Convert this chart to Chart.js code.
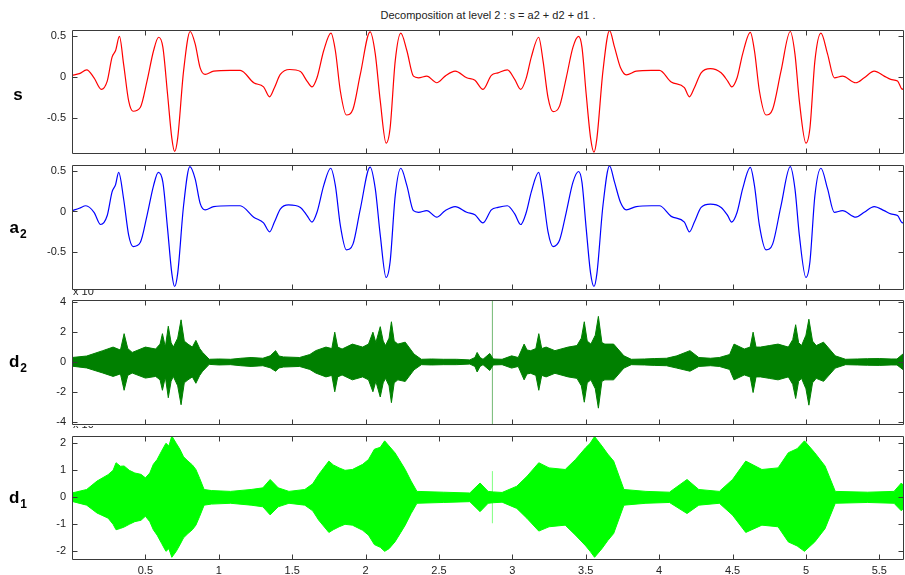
<!DOCTYPE html>
<html><head><meta charset="utf-8">
<script src="https://cdn.jsdelivr.net/npm/chart.js@4.4.1/dist/chart.umd.min.js"></script>
<style>
html,body{margin:0;padding:0;background:#fff;width:905px;height:575px;overflow:hidden;font-family:"Liberation Sans",Arial,sans-serif;}
canvas{position:absolute;left:0;}
#title{position:absolute;top:9px;left:72px;width:832px;text-align:center;font-size:11px;color:#222;white-space:nowrap;}
</style></head><body>
<div id="title">Decomposition at level 2 : s = a2 + d2 + d1 .</div>
<canvas id="c1" style="top:20px" width="905" height="135"></canvas>
<canvas id="c2" style="top:155px" width="905" height="136"></canvas>
<canvas id="c3" style="top:290px" width="905" height="136"></canvas>
<canvas id="c4" style="top:426px" width="905" height="149"></canvas>
<script>
// ---------- data ----------
const X_MAX = 5.668;
const xTickVals = [0.5, 1, 1.5, 2, 2.5, 3, 3.5, 4, 4.5, 5, 5.5];
const sTicks = [-0.5, 0, 0.5];
const a2Ticks = [-0.5, 0, 0.5];
const d2Ticks = [-4, -2, 0, 2, 4];
const d1Ticks = [-2, -1, 0, 1, 2];

// s (original signal)
const sX = [0, 0.05, 0.1, 0.15, 0.2, 0.24, 0.273, 0.297, 0.323, 0.352, 0.386, 0.416, 0.465, 0.511, 0.556, 0.59, 0.619, 0.651, 0.68, 0.699, 0.72, 0.76, 0.805, 0.839, 0.873, 0.907, 0.965, 1.078, 1.146, 1.238, 1.305, 1.346, 1.379, 1.419, 1.483, 1.556, 1.601, 1.635, 1.669, 1.715, 1.764, 1.794, 1.828, 1.869, 1.914, 1.964, 2.031, 2.066, 2.1, 2.14, 2.167, 2.202, 2.24, 2.281, 2.326, 2.36, 2.417, 2.485, 2.542, 2.61, 2.689, 2.745, 2.8, 2.857, 2.902, 2.966, 3.016, 3.057, 3.095, 3.129, 3.179, 3.209, 3.243, 3.277, 3.322, 3.367, 3.413, 3.451, 3.474, 3.503, 3.533, 3.556, 3.576, 3.617, 3.662, 3.696, 3.737, 3.776, 3.844, 3.946, 4.002, 4.082, 4.172, 4.206, 4.24, 4.286, 4.349, 4.422, 4.467, 4.494, 4.531, 4.569, 4.621, 4.649, 4.683, 4.728, 4.773, 4.83, 4.893, 4.925, 4.955, 5.0, 5.027, 5.061, 5.102, 5.147, 5.193, 5.249, 5.34, 5.397, 5.465, 5.533, 5.578, 5.624, 5.658, 5.668];
const sY = [0.02, 0.04, 0.085, -0.01, -0.15, -0.05, 0.24, 0.32, 0.49, 0.15, -0.29, -0.415, -0.37, -0.05, 0.32, 0.48, 0.36, -0.21, -0.74, -0.9, -0.74, 0.07, 0.55, 0.4, 0.11, 0.03, 0.07, 0.08, 0.08, -0.07, -0.12, -0.24, -0.13, 0.03, 0.09, 0.065, -0.05, -0.12, -0.01, 0.32, 0.53, 0.32, -0.17, -0.46, -0.39, 0.03, 0.545, 0.28, -0.29, -0.8, -0.62, 0.195, 0.53, 0.32, 0.01, -0.01, 0.01, -0.07, 0.01, 0.07, -0.01, -0.04, -0.15, 0.02, 0.05, 0.085, -0.03, -0.15, -0.01, 0.24, 0.48, 0.195, -0.25, -0.42, -0.35, -0.01, 0.36, 0.49, 0.36, -0.21, -0.74, -0.91, -0.74, 0.07, 0.56, 0.36, 0.11, 0.025, 0.07, 0.08, 0.08, -0.06, -0.13, -0.24, -0.13, 0.05, 0.1, 0.05, -0.05, -0.12, -0.01, 0.28, 0.54, 0.32, -0.17, -0.46, -0.39, 0.07, 0.55, 0.28, -0.29, -0.8, -0.62, 0.195, 0.53, 0.28, -0.01, 0.01, -0.07, -0.01, 0.07, 0.01, -0.03, -0.05, -0.15, -0.12];

// a2 (approximation, level 2)
const a2X = [0, 0.05, 0.095, 0.15, 0.195, 0.24, 0.273, 0.297, 0.318, 0.352, 0.386, 0.416, 0.465, 0.511, 0.556, 0.588, 0.619, 0.651, 0.68, 0.699, 0.72, 0.76, 0.803, 0.839, 0.873, 0.907, 0.965, 1.078, 1.146, 1.238, 1.305, 1.346, 1.379, 1.419, 1.475, 1.556, 1.601, 1.635, 1.669, 1.715, 1.762, 1.794, 1.828, 1.869, 1.914, 1.964, 2.031, 2.066, 2.1, 2.14, 2.167, 2.202, 2.24, 2.281, 2.326, 2.36, 2.417, 2.485, 2.542, 2.61, 2.689, 2.745, 2.8, 2.857, 2.902, 2.966, 3.016, 3.057, 3.095, 3.129, 3.179, 3.209, 3.243, 3.277, 3.322, 3.367, 3.413, 3.451, 3.474, 3.503, 3.533, 3.556, 3.576, 3.617, 3.662, 3.696, 3.737, 3.776, 3.844, 3.946, 4.002, 4.082, 4.172, 4.206, 4.24, 4.286, 4.349, 4.422, 4.467, 4.494, 4.531, 4.569, 4.621, 4.649, 4.683, 4.728, 4.773, 4.83, 4.893, 4.925, 4.955, 5.0, 5.027, 5.061, 5.102, 5.147, 5.193, 5.249, 5.34, 5.397, 5.465, 5.533, 5.578, 5.624, 5.658, 5.668];
const a2Y = [0.01, 0.04, 0.07, -0.01, -0.16, -0.05, 0.24, 0.33, 0.48, 0.15, -0.29, -0.43, -0.38, -0.05, 0.32, 0.48, 0.36, -0.21, -0.76, -0.92, -0.76, 0.07, 0.55, 0.4, 0.1, 0.02, 0.06, 0.07, 0.07, -0.07, -0.14, -0.25, -0.13, 0.03, 0.08, 0.05, -0.05, -0.13, -0.01, 0.32, 0.53, 0.32, -0.17, -0.47, -0.4, 0.03, 0.545, 0.28, -0.29, -0.81, -0.62, 0.195, 0.53, 0.32, 0.01, -0.01, 0.01, -0.07, 0.01, 0.06, -0.01, -0.04, -0.14, 0.02, 0.05, 0.07, -0.03, -0.16, -0.01, 0.24, 0.48, 0.195, -0.25, -0.43, -0.35, -0.01, 0.36, 0.49, 0.36, -0.21, -0.76, -0.92, -0.76, 0.07, 0.56, 0.36, 0.11, 0.02, 0.06, 0.07, 0.07, -0.06, -0.13, -0.25, -0.13, 0.05, 0.09, 0.05, -0.05, -0.13, -0.01, 0.28, 0.54, 0.32, -0.17, -0.47, -0.4, 0.07, 0.55, 0.28, -0.29, -0.81, -0.62, 0.195, 0.53, 0.28, -0.01, 0.01, -0.07, -0.01, 0.06, 0.01, -0.03, -0.05, -0.14, -0.12];

// d2 (detail, level 2) : envelope of the dense oscillation
const d2X = [0, 0.1, 0.21, 0.28, 0.33, 0.355, 0.38, 0.41, 0.5, 0.57,
  0.6, 0.616, 0.636, 0.656, 0.675, 0.69, 0.72, 0.743, 0.765, 0.79,
  0.82, 0.844, 0.87, 0.89, 0.935, 1.0, 1.08, 1.15, 1.22, 1.3,
  1.35, 1.387, 1.41, 1.44, 1.55, 1.62, 1.66, 1.73, 1.77, 1.79,
  1.81, 1.84, 1.91, 1.98, 2.02, 2.05, 2.07, 2.1, 2.12, 2.136,
  2.16, 2.176, 2.195, 2.22, 2.27, 2.33, 2.38, 2.45, 2.53, 2.62,
  2.71, 2.745, 2.76, 2.78, 2.8, 2.846, 2.87, 2.93, 2.995, 3.04,
  3.08, 3.1, 3.125, 3.16, 3.18, 3.2, 3.23, 3.29, 3.38, 3.44,
  3.47, 3.49, 3.51, 3.535, 3.565, 3.586, 3.61, 3.63, 3.69, 3.76,
  3.81, 3.9, 3.97, 4.05, 4.12, 4.21, 4.27, 4.35, 4.41, 4.48,
  4.51, 4.58, 4.62, 4.64, 4.66, 4.69, 4.75, 4.81, 4.88, 4.91,
  4.93, 4.95, 4.97, 5.0, 5.02, 5.045, 5.07, 5.12, 5.2, 5.27,
  5.35, 5.42, 5.5, 5.58, 5.62, 5.66, 5.668];
const d2Up = [0.3, 0.4, 0.76, 1.0, 0.8, 1.9, 0.9, 0.64, 1.0, 0.87,
  1.2, 1.9, 1.0, 2.4, 1.3, 1.0, 1.6, 2.83, 1.4, 1.2,
  1.0, 1.45, 0.9, 0.64, 0.18, 0.2, 0.18, 0.25, 0.3, 0.25,
  0.41, 0.76, 0.4, 0.34, 0.3, 0.5, 0.76, 1.0, 0.9, 2.0,
  1.0, 0.87, 1.2, 1.0, 1.2, 2.0, 1.3, 2.37, 1.4, 1.1,
  1.6, 2.7, 1.4, 1.2, 1.33, 0.53, 0.18, 0.2, 0.18, 0.18,
  0.14, 0.3, 0.64, 0.3, 0.18, 0.57, 0.2, 0.18, 0.41, 0.3,
  1.2, 0.8, 0.76, 0.9, 1.9, 0.9, 1.0, 0.76, 1.0, 1.1,
  1.6, 2.7, 1.4, 1.2, 1.8, 3.06, 1.3, 1.2, 1.2, 0.41,
  0.18, 0.2, 0.23, 0.25, 0.41, 0.76, 0.3, 0.25, 0.3, 0.5,
  1.2, 0.87, 1.0, 2.0, 1.0, 1.0, 1.1, 1.2, 1.0, 1.5,
  2.5, 1.3, 1.1, 1.8, 2.87, 1.4, 1.1, 1.33, 0.41, 0.18,
  0.2, 0.22, 0.23, 0.2, 0.2, 0.53, 0.4];
const d2Lo = [-0.28, -0.4, -0.74, -0.97, -0.8, -1.9, -0.9, -0.74, -1.08, -0.97,
  -1.2, -1.9, -1.0, -2.4, -1.3, -0.97, -1.6, -2.87, -1.4, -1.2,
  -1.0, -1.43, -0.9, -0.62, -0.16, -0.2, -0.18, -0.25, -0.3, -0.25,
  -0.39, -0.62, -0.4, -0.34, -0.3, -0.5, -0.74, -1.0, -0.9, -2.0,
  -1.0, -0.87, -1.2, -1.0, -1.2, -2.0, -1.3, -2.35, -1.4, -1.1,
  -1.6, -2.73, -1.4, -1.2, -1.31, -0.53, -0.18, -0.2, -0.18, -0.18,
  -0.14, -0.3, -0.67, -0.3, -0.18, -0.57, -0.2, -0.18, -0.41, -0.3,
  -1.2, -0.8, -0.76, -0.9, -1.9, -0.9, -1.0, -0.76, -1.0, -1.1,
  -1.6, -2.7, -1.4, -1.2, -1.8, -3.1, -1.3, -1.2, -1.2, -0.41,
  -0.18, -0.2, -0.23, -0.25, -0.41, -0.62, -0.3, -0.25, -0.3, -0.5,
  -1.2, -0.87, -1.0, -2.05, -1.0, -1.0, -1.1, -1.2, -1.0, -1.5,
  -2.45, -1.3, -1.1, -1.8, -2.9, -1.4, -1.1, -1.3, -0.41, -0.18,
  -0.2, -0.22, -0.23, -0.2, -0.2, -0.5, -0.4];
const d2SpikeX = [2.864];
const d2SpikeHi = [4.3];
const d2SpikeLo = [-4.3];

// d1 (detail, level 1) : envelope of the dense oscillation
const d1X = [0, 0.1, 0.17, 0.246, 0.28, 0.3, 0.33, 0.355, 0.39, 0.428,
  0.47, 0.5, 0.53, 0.554, 0.58, 0.61, 0.64, 0.66, 0.68, 0.71,
  0.735, 0.76, 0.79, 0.82, 0.844, 0.87, 0.9, 0.95, 1.08, 1.22,
  1.3, 1.35, 1.405, 1.478, 1.586, 1.64, 1.68, 1.75, 1.78, 1.82,
  1.86, 1.91, 1.98, 2.02, 2.06, 2.1, 2.13, 2.16, 2.2, 2.24,
  2.27, 2.31, 2.35, 2.53, 2.71, 2.78, 2.835, 2.87, 2.93, 3.03,
  3.1, 3.18, 3.25, 3.36, 3.43, 3.5, 3.53, 3.56, 3.61, 3.65,
  3.69, 3.76, 3.91, 4.07, 4.19, 4.27, 4.41, 4.5, 4.59, 4.7,
  4.81, 4.88, 4.94, 4.99, 5.06, 5.13, 5.2, 5.42, 5.6, 5.65,
  5.668];
const d1Up = [0.16, 0.29, 0.6, 0.84, 1.0, 1.28, 1.15, 1.16, 1.0, 0.9,
  0.85, 0.72, 0.9, 1.22, 1.4, 1.71, 2.0, 1.9, 2.27, 2.0,
  1.78, 1.5, 1.34, 1.2, 1.03, 0.7, 0.29, 0.25, 0.22, 0.29,
  0.35, 0.66, 0.35, 0.22, 0.29, 0.5, 0.84, 1.34, 1.2, 1.09,
  1.0, 1.03, 1.22, 1.4, 1.78, 1.85, 2.09, 1.9, 1.65, 1.3,
  1.03, 0.6, 0.22, 0.19, 0.16, 0.53, 0.22, 0.2, 0.18, 0.41,
  0.78, 1.28, 1.09, 1.03, 1.4, 1.84, 2.0, 2.25, 1.9, 1.6,
  1.34, 0.29, 0.22, 0.19, 0.66, 0.29, 0.22, 0.66, 1.34, 1.03,
  1.09, 1.65, 1.8, 2.09, 1.65, 1.16, 0.22, 0.19, 0.22, 0.53,
  0.4];
const d1Lo = [-0.15, -0.29, -0.58, -0.77, -1.0, -1.2, -1.15, -1.1, -1.0, -0.9,
  -0.85, -0.7, -0.9, -1.2, -1.4, -1.7, -2.0, -1.9, -2.22, -2.0,
  -1.76, -1.5, -1.34, -1.2, -1.03, -0.7, -0.29, -0.25, -0.22, -0.29,
  -0.35, -0.65, -0.35, -0.22, -0.29, -0.5, -0.84, -1.3, -1.2, -1.09,
  -1.0, -1.03, -1.22, -1.4, -1.75, -1.85, -2.0, -1.9, -1.65, -1.3,
  -1.03, -0.6, -0.22, -0.19, -0.16, -0.53, -0.22, -0.2, -0.18, -0.41,
  -0.78, -1.25, -1.09, -1.03, -1.4, -1.8, -2.0, -2.22, -1.9, -1.6,
  -1.34, -0.29, -0.22, -0.19, -0.6, -0.29, -0.22, -0.66, -1.3, -1.03,
  -1.09, -1.65, -1.8, -2.0, -1.65, -1.16, -0.22, -0.19, -0.22, -0.5,
  -0.4];
const d1SpikeX = [0, 2.864];
const d1SpikeHi = [0.5, 0.97];
const d1SpikeLo = [-0.44, -0.96];

// ---------- drawing ----------
const FONT = '"Liberation Sans", Arial, sans-serif';
const pts = (xs, ys) => xs.map((x, i) => ({x, y: ys[i]}));

const framePlugin = {
  id: 'frame',
  afterDraw(chart, args, o) {
    const {ctx, chartArea: a, scales: {x, y}} = chart;
    ctx.save();
    ctx.strokeStyle = '#3a3a3a';
    ctx.lineWidth = 1;
    const L = Math.round(a.left) + 0.5, R = Math.round(a.right) - 0.5;
    const T = Math.round(a.top) + 0.5, B = Math.round(a.bottom) - 0.5;
    ctx.beginPath();
    ctx.rect(L, T, R - L, B - T);
    xTickVals.forEach(v => {
      const px = Math.round(x.getPixelForValue(v)) + 0.5;
      ctx.moveTo(px, T); ctx.lineTo(px, T + 5);
      ctx.moveTo(px, B); ctx.lineTo(px, B - 5);
    });
    o.yt.forEach(v => {
      const py = Math.round(y.getPixelForValue(v)) + 0.5;
      ctx.moveTo(L, py); ctx.lineTo(L + 5, py);
      ctx.moveTo(R, py); ctx.lineTo(R - 5, py);
    });
    ctx.stroke();

    // axis name with optional subscript
    const cy = (a.top + a.bottom) / 2;
    ctx.fillStyle = '#000';
    ctx.textAlign = 'left';
    ctx.textBaseline = 'alphabetic';
    ctx.font = 'bold 17px ' + FONT;
    const w1 = ctx.measureText(o.name).width;
    let w2 = 0;
    if (o.sub) { ctx.font = 'bold 12px ' + FONT; w2 = ctx.measureText(o.sub).width + 1; }
    const x0 = 18 - (w1 + w2) / 2;
    ctx.font = 'bold 17px ' + FONT;
    ctx.fillText(o.name, x0, cy + o.dy);
    if (o.sub) { ctx.font = 'bold 12px ' + FONT; ctx.fillText(o.sub, x0 + w1 + 1, cy + o.dy + 5); }

    // exponent label partly hidden behind the panel above
    if (o.exp) {
      ctx.save();
      ctx.beginPath();
      ctx.rect(0, a.top - o.expClip, chart.width, o.expClip);
      ctx.clip();
      ctx.font = '11px ' + FONT;
      ctx.fillStyle = '#222';
      ctx.fillText('x 10', a.left + 1, a.top - o.expOff);
      ctx.restore();
    }
    ctx.restore();
  }
};

function panel(id, datasets, yMin, yMax, yTicks, opts) {
  return new Chart(document.getElementById(id), {
    type: 'line',
    data: {datasets},
    options: {
      responsive: false, animation: false, events: [],
      layout: {padding: {top: 10, bottom: opts.padBottom, left: 0, right: 1}},
      elements: {point: {radius: 0}, line: {borderJoinStyle: 'round'}},
      plugins: {
        legend: {display: false}, tooltip: {enabled: false},
        frame: Object.assign({yt: yTicks}, opts)
      },
      scales: {
        x: {
          type: 'linear', min: 0, max: X_MAX, display: opts.showX,
          afterBuildTicks: s => { s.ticks = xTickVals.map(v => ({value: v})); },
          afterFit: s => { s.height = opts.showX ? 15 : 0; s.paddingLeft = 0; s.paddingRight = 0; },
          grid: {display: false, drawTicks: false}, border: {display: false},
          ticks: {padding: 4, autoSkip: false, maxRotation: 0, color: '#222', font: {size: 11, family: FONT},
                  callback: v => String(v)}
        },
        y: {
          type: 'linear', min: yMin, max: yMax,
          afterBuildTicks: s => { s.ticks = yTicks.map(v => ({value: v})); },
          afterFit: s => { s.width = 72; s.paddingTop = 0; s.paddingBottom = 0; },
          grid: {display: false, drawTicks: false}, border: {display: false},
          ticks: {padding: 6, autoSkip: false, color: '#222', font: {size: 11, family: FONT},
                  callback: v => String(v)}
        }
      }
    },
    plugins: [framePlugin]
  });
}

panel('c1', [{data: pts(sX, sY), borderColor: '#ff0000', borderWidth: 1.2, cubicInterpolationMode: 'monotone', fill: false}],
  -0.932, 0.568, sTicks, {name: 's', sub: '', dy: 8, padBottom: 1, showX: false});

panel('c2', [{data: pts(a2X, a2Y), borderColor: '#0000ff', borderWidth: 1.2, cubicInterpolationMode: 'monotone', fill: false}],
  -0.963, 0.57, a2Ticks, {name: 'a', sub: '2', dy: 5, padBottom: 1, showX: false});

const d2Sets = [
  {data: pts(d2X, d2Up), borderColor: '#008000', backgroundColor: '#008000', borderWidth: 1, fill: '+1'},
  {data: pts(d2X, d2Lo), borderColor: '#008000', borderWidth: 1, fill: false}
];
d2SpikeX.forEach((x, i) => d2Sets.push({data: [{x, y: d2SpikeLo[i]}, {x, y: d2SpikeHi[i]}], borderColor: 'rgba(0,128,0,0.55)', borderWidth: 1, fill: false}));
panel('c3', d2Sets, -4.23, 4.16, d2Ticks, {name: 'd', sub: '2', dy: 4.5, padBottom: 1, showX: false, exp: true, expClip: 10, expOff: 5});

const d1Sets = [
  {data: pts(d1X, d1Up), borderColor: '#00ff00', backgroundColor: '#00ff00', borderWidth: 1, fill: '+1'},
  {data: pts(d1X, d1Lo), borderColor: '#00ff00', borderWidth: 1, fill: false}
];
d1SpikeX.forEach((x, i) => d1Sets.push({data: [{x, y: d1SpikeLo[i]}, {x, y: d1SpikeHi[i]}], borderColor: 'rgba(0,255,0,0.5)', borderWidth: 1, fill: false}));
panel('c4', d1Sets, -2.32, 2.27, d1Ticks, {name: 'd', sub: '1', dy: 5, padBottom: 0, showX: true, exp: true, expClip: 10, expOff: 8});
</script>
</body></html>
